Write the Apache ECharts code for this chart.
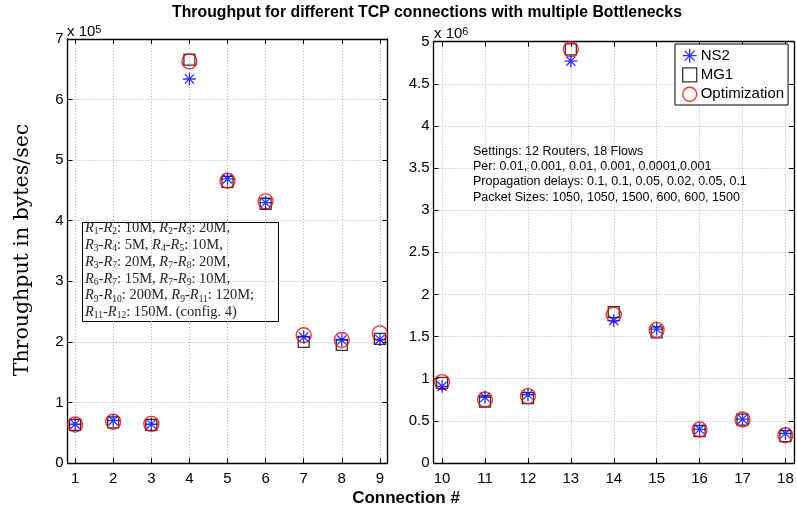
<!DOCTYPE html>
<html>
<head>
<meta charset="utf-8">
<script src="https://cdn.jsdelivr.net/npm/echarts@6/dist/echarts.min.js"></script>
<style>
  html, body { margin: 0; padding: 0; background: #fff; }
  #chart { width: 797px; height: 514px; }
</style>
</head>
<body>
<div id="chart"></div>
<script>
// Connections 1-9 (throughput in bytes/sec)
const connLeft = [1, 2, 3, 4, 5, 6, 7, 8, 9];
const ns2Left = [0.64e5, 0.70e5, 0.64e5, 6.34e5, 4.69e5, 4.30e5, 2.08e5, 2.03e5, 2.04e5];
const mg1Left = [0.63e5, 0.67e5, 0.63e5, 6.66e5, 4.64e5, 4.28e5, 2.00e5, 1.95e5, 2.05e5];
const optLeft = [0.635e5, 0.68e5, 0.646e5, 6.63e5, 4.66e5, 4.32e5, 2.11e5, 2.03e5, 2.14e5];

// Connections 10-18 (throughput in bytes/sec)
const connRight = [10, 11, 12, 13, 14, 15, 16, 17, 18];
const ns2Right = [0.91e6, 0.78e6, 0.81e6, 4.77e6, 1.69e6, 1.59e6, 0.40e6, 0.52e6, 0.35e6];
const mg1Right = [0.95e6, 0.73e6, 0.77e6, 4.91e6, 1.79e6, 1.55e6, 0.38e6, 0.515e6, 0.32e6];
const optRight = [0.96e6, 0.754e6, 0.794e6, 4.91e6, 1.76e6, 1.58e6, 0.397e6, 0.516e6, 0.33e6];

const seriesNames = ['NS2', 'MG1', 'Optimization'];

const settingsLines = [
  'Settings: 12 Routers, 18 Flows',
  'Per: 0.01, 0.001, 0.01, 0.001, 0.0001,0.001',
  'Propagation delays: 0.1, 0.1, 0.05, 0.02, 0.05, 0.1',
  'Packet Sizes: 1050, 1050, 1500, 600, 600, 1500'
];

const linkLines = [
  '{i|R}{s|1}-{i|R}{s|2}: 10M, {i|R}{s|2}-{i|R}{s|3}: 20M,',
  '{i|R}{s|3}-{i|R}{s|4}: 5M, {i|R}{s|4}-{i|R}{s|5}: 10M,',
  '{i|R}{s|3}-{i|R}{s|7}: 20M, {i|R}{s|7}-{i|R}{s|8}: 20M,',
  '{i|R}{s|6}-{i|R}{s|7}: 15M, {i|R}{s|7}-{i|R}{s|9}: 10M,',
  '{i|R}{s|9}-{i|R}{s|10}: 200M, {i|R}{s|9}-{i|R}{s|11}: 120M;',
  '{i|R}{s|11}-{i|R}{s|12}: 150M. (config. 4)'
];

const SANS = '"Liberation Sans", Arial, sans-serif';
const SERIF = '"Liberation Serif", "DejaVu Serif", serif';
const LABEL_SERIF = '"DejaVu Serif", "Liberation Serif", serif';
const STAR = 'path://M0,-10L0,10M-10,0L10,0M-7.07,-7.07L7.07,7.07M-7.07,7.07L7.07,-7.07';

const chart = echarts.init(document.getElementById('chart'), null, { renderer: 'canvas' });

const gridLine = { show: true, lineStyle: { color: '#b4b4b4', type: [1, 2], width: 1 } };
const axisLine = { show: true, onZero: false, lineStyle: { color: '#000', width: 1.3 } };

function xAxes(gridIndex, min, max, ticks) {
  return [
    {
      type: 'value', gridIndex, min, max, position: 'bottom',
      axisLine, axisTick: { show: true, inside: true, length: 5, customValues: ticks, lineStyle: { color: '#000' } },
      axisLabel: { customValues: ticks, color: '#000', fontSize: 15, fontFamily: SANS, margin: 8 },
      splitLine: gridLine
    },
    {
      type: 'value', gridIndex, min, max, position: 'top',
      axisLine, axisTick: { show: true, inside: true, length: 5, customValues: ticks, lineStyle: { color: '#000' } },
      axisLabel: { show: false }, splitLine: { show: false }
    }
  ];
}

function yAxes(gridIndex, max, interval, scale) {
  return [
    {
      type: 'value', gridIndex, min: 0, max, interval, position: 'left',
      axisLine, axisTick: { show: true, inside: true, length: 5, lineStyle: { color: '#000' } },
      axisLabel: {
        color: '#000', fontSize: 15, fontFamily: SANS, margin: 4,
        formatter: v => String(+(v / scale).toFixed(2))
      },
      splitLine: gridLine
    },
    {
      type: 'value', gridIndex, min: 0, max, interval, position: 'right',
      axisLine, axisTick: { show: true, inside: true, length: 5, lineStyle: { color: '#000' } },
      axisLabel: { show: false }, splitLine: { show: false }
    }
  ];
}

function pts(xs, ys) { return xs.map((x, i) => [x, ys[i]]); }

const styles = {
  NS2: { symbol: STAR, symbolSize: 13, itemStyle: { color: 'rgba(0,0,0,0)', borderColor: '#0000ff', borderWidth: 1.3 }, z: 4 },
  MG1: { symbol: 'rect', symbolSize: 11, itemStyle: { color: 'rgba(0,0,0,0)', borderColor: '#000', borderWidth: 1.3 }, z: 2 },
  Optimization: { symbol: 'circle', symbolSize: 15, itemStyle: { color: 'rgba(0,0,0,0)', borderColor: '#ff0000', borderWidth: 1.4 }, z: 3 }
};

function makeSeries(name, idx, xs, ys) {
  const s = styles[name];
  return {
    type: 'scatter', name, xAxisIndex: idx, yAxisIndex: idx,
    data: pts(xs, ys), symbol: s.symbol, symbolSize: s.symbolSize,
    itemStyle: s.itemStyle, z: s.z, silent: true, animation: false
  };
}

const option = {
  backgroundColor: '#fff',
  animation: false,
  grid: [
    { left: 67.5, top: 39, width: 320, height: 424 },
    { left: 433.5, top: 41.7, width: 360.5, height: 421.3 }
  ],
  xAxis: [].concat(xAxes(0, 0.8, 9.2, connLeft), xAxes(1, 9.8, 18.2, connRight)),
  yAxis: [].concat(yAxes(0, 7e5, 1e5, 1e5), yAxes(1, 5e6, 0.5e6, 1e6)),
  legend: {
    orient: 'vertical', left: 675, top: 44,
    backgroundColor: '#fff', borderColor: '#000', borderWidth: 1,
    padding: [4, 4, 3, 7], itemGap: 4, itemWidth: 14, itemHeight: 14,
    textStyle: { color: '#000', fontSize: 15, fontFamily: SANS, padding: [0, 0, 0, -1] },
    data: seriesNames.map(n => ({ name: n, icon: styles[n].symbol, itemStyle: styles[n].itemStyle })),
    selectedMode: false
  },
  series: [
    makeSeries('MG1', 0, connLeft, mg1Left),
    makeSeries('Optimization', 0, connLeft, optLeft),
    makeSeries('NS2', 0, connLeft, ns2Left),
    makeSeries('MG1', 2, connRight, mg1Right),
    makeSeries('Optimization', 2, connRight, optRight),
    makeSeries('NS2', 2, connRight, ns2Right)
  ],
  graphic: [
    {
      type: 'text', x: 427, y: 13,
      style: { text: 'Throughput for different TCP connections with multiple Bottlenecks', font: 'bold 15.8px ' + SANS, fill: '#000', align: 'center', verticalAlign: 'middle' }
    },
    {
      type: 'text', x: 406, y: 498,
      style: { text: 'Connection #', font: 'bold 17px ' + SANS, fill: '#000', align: 'center', verticalAlign: 'middle' }
    },
    {
      type: 'text', x: 23, y: 250, rotation: Math.PI / 2,
      style: { text: 'Throughput in bytes/sec', font: '20.5px ' + LABEL_SERIF, fill: '#000', align: 'center', verticalAlign: 'middle' }
    },
    {
      type: 'text', x: 67, y: 32,
      style: { text: 'x 10{sup|5}', font: '15px ' + SANS, fill: '#000', verticalAlign: 'middle',
        rich: { sup: { fontSize: 11, fontFamily: SANS, verticalAlign: 'top', lineHeight: 8 } } }
    },
    {
      type: 'text', x: 434, y: 34,
      style: { text: 'x 10{sup|6}', font: '15px ' + SANS, fill: '#000', verticalAlign: 'middle',
        rich: { sup: { fontSize: 11, fontFamily: SANS, verticalAlign: 'top', lineHeight: 8 } } }
    },
    {
      type: 'text', x: 473, y: 144,
      style: { text: settingsLines.join('\n'), font: '12.5px ' + SANS, fill: '#000', lineHeight: 15.2 }
    },
    {
      type: 'group', z: 10,
      children: [
        { type: 'rect', shape: { x: 82.5, y: 222.5, width: 196, height: 99 },
          style: { fill: '#fff', stroke: '#000', lineWidth: 1 } },
        { type: 'text', x: 85, y: 220,
          style: {
            text: linkLines.join('\n'), font: '14.5px ' + SERIF, fill: '#222', lineHeight: 16.8,
            rich: {
              i: { fontStyle: 'italic', fontSize: 14.5, fontFamily: SERIF, lineHeight: 16.8 },
              s: { fontSize: 9.5, fontFamily: SERIF, verticalAlign: 'bottom', lineHeight: 10 }
            }
          }
        }
      ]
    }
  ]
};

chart.setOption(option);
</script>
</body>
</html>
